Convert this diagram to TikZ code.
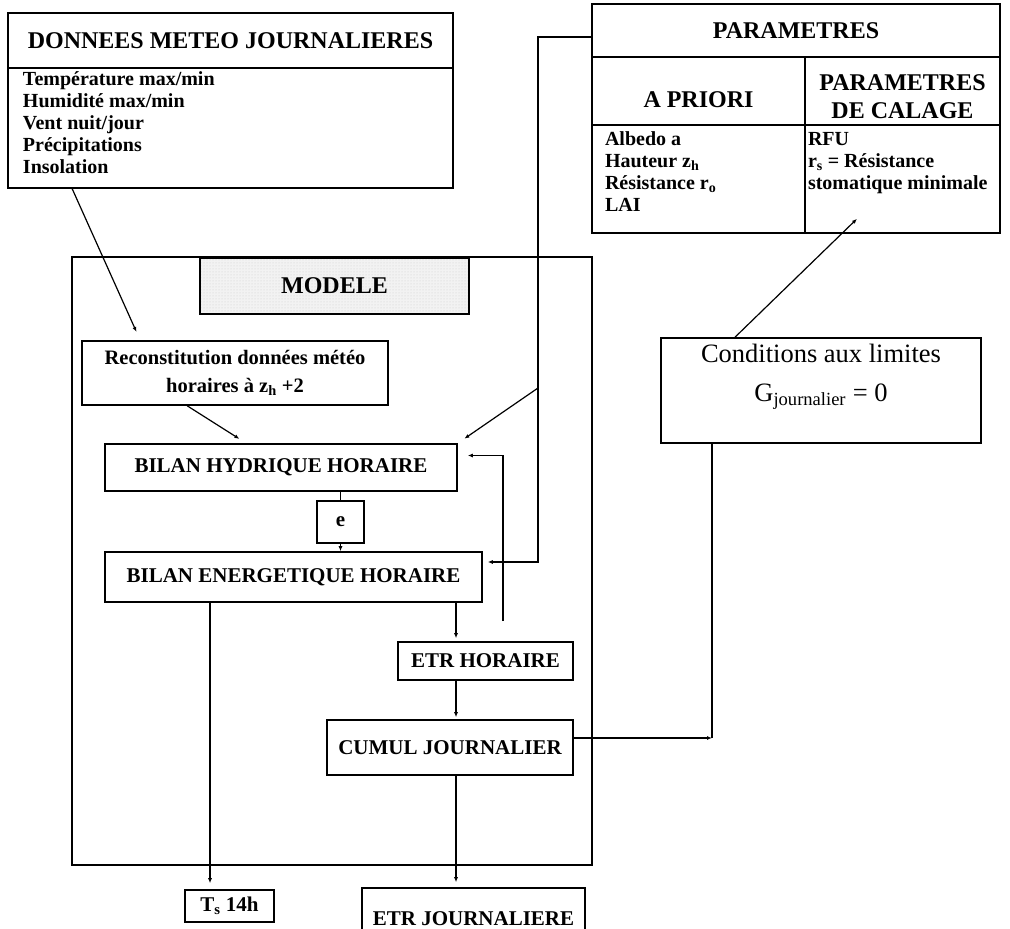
\documentclass[tikz,border=0pt]{standalone}
\usepackage{fontspec}
\setmainfont{Liberation Serif}
\usepackage{tikz}
\usetikzlibrary{arrows.meta}
\usetikzlibrary{calc}
\usetikzlibrary{patterns}
\newcommand\titlefont{\fontsize{24}{28}\selectfont\bfseries}
\newcommand\boxfont{\fontsize{21}{25}\selectfont\bfseries}
\newcommand\listfont{\fontsize{20}{22}\selectfont\bfseries}
\newcommand\condfont{\fontsize{26.5}{39}\selectfont\mdseries}
\newcommand\topcell[3]{\parbox[c][#1][t]{#2}{#3}}
\newcommand\botcell[3]{\parbox[c][#1][b]{#2}{#3}}
\tikzstyle{cell}=[draw,line width=1.6pt,inner sep=0pt,font=\boxfont]
\tikzstyle{stipple}=[preaction={fill=black!5},pattern=dots,pattern color=black!20]
\tikzstyle{arr}=[line width=1.2pt,-{Latex[length=5pt,width=4pt]}]
\tikzstyle{ln}=[line width=1.2pt]

\begin{document}
\begin{tikzpicture}[x=1pt,y=-1pt]
	\useasboundingbox (0,0) rectangle (1010,929);
	% entrees et parametres
	\node[cell,font=\titlefont,minimum width=445pt,minimum height=55pt] (donT) at (230.5,40.5) {DONNEES METEO JOURNALIERES};
	\node[cell,minimum width=445pt,minimum height=120pt] (donB) at (230.5,128) {\topcell{112pt}{415pt}{\listfont Température max/min\\Humidité max/min\\Vent nuit/jour\\Précipitations\\Insolation}};
	\node[cell,font=\titlefont,minimum width=408pt,minimum height=53pt] (parT) at (796,30.5) {PARAMETRES};
	\node[cell,font=\titlefont,minimum width=213pt,minimum height=68pt] (parA) at (698.5,91) {\botcell{34pt}{200pt}{\centering A PRIORI}};
	\node[cell,font=\titlefont,minimum width=195pt,minimum height=68pt] (parC) at (902.5,91) {\botcell{56pt}{190pt}{\centering PARAMETRES\\DE CALAGE}};
	\node[cell,minimum width=213pt,minimum height=108pt] (parAL) at (698.5,179) {\topcell{94pt}{187pt}{\listfont Albedo a\\Hauteur z\textsubscript{h}\\Résistance r\textsubscript{o}\\LAI}};
	\node[cell,minimum width=195pt,minimum height=108pt] (parCL) at (902.5,179) {\topcell{94pt}{189pt}{\listfont RFU\\r\textsubscript{s} = Résistance\\stomatique minimale}};
	\node[cell,minimum width=320pt,minimum height=105pt] (cond) at (821,390.5) {\topcell{93pt}{300pt}{\centering\condfont Conditions aux limites\\G\textsubscript{journalier} = 0}};
	% modele
	\node[cell,minimum width=520pt,minimum height=608pt] (modF) at (332,561) {};
	\node[cell,stipple,font=\titlefont,minimum width=269pt,minimum height=56pt] (modL) at (334.5,286) {MODELE};
	\node[cell,font=\fontsize{20.5}{28}\selectfont\bfseries,align=center,minimum width=306pt,minimum height=64pt] (recon) at (235,373) {Reconstitution données météo\\horaires à z\textsubscript{h} +2};
	\node[cell,minimum width=352pt,minimum height=47pt] (bilH) at (281,467.5) {BILAN HYDRIQUE HORAIRE};
	\node[cell,minimum width=47pt,minimum height=42pt] (eb) at (340.5,522) {e};
	\node[cell,minimum width=377pt,minimum height=50pt] (bilE) at (293.5,577) {BILAN ENERGETIQUE HORAIRE};
	\node[cell,minimum width=175pt,minimum height=38pt] (etrH) at (485.5,661) {ETR HORAIRE};
	\node[cell,minimum width=246pt,minimum height=55pt] (cumul) at (450,747.5) {CUMUL JOURNALIER};
	% sorties
	\node[cell,minimum width=89pt,minimum height=32pt] (ts) at (229.5,906) {T\textsubscript{s} 14h};
	\node[cell,minimum width=223pt,minimum height=62pt] (etrJ) at (473.5,919) {ETR JOURNALIERE};
	\coordinate (pbend) at (538,388);
	\coordinate (cturn) at (712,738);
	% liaisons
	\draw[arr,shorten >=9pt] ([xshift=65pt]donB.south west) -- ([xshift=59pt]recon.north west);
	\draw[arr,shorten >=8pt] ([xshift=106pt]recon.south west) -- ([xshift=142pt]bilH.north west);
	\draw[arr,shorten >=5pt] ([yshift=-6.5pt]parT.west) -| (pbend) |- ([yshift=15pt]bilE.east);
	\draw[arr,shorten >=8pt] (pbend) -- (bilH.north east);
	\draw[arr,shorten <=20pt,shorten >=10pt] ([xshift=17.5pt]etrH.north) |- ([yshift=12pt]bilH.east);
	\draw[ln] (eb.north |- bilH.south) -- (eb.north);
	\draw[arr] (eb.south) -- (eb.south |- bilE.north);
	\draw[arr,shorten >=3pt] ([xshift=-29.5pt]etrH.north |- bilE.south) -- ([xshift=-29.5pt]etrH.north);
	\draw[arr,shorten >=2pt] ([xshift=-29.5pt]etrH.south) -- ([xshift=-29.5pt]etrH.south |- cumul.north);
	\draw[arr] ([yshift=9.5pt]cumul.east) -- (cturn);
	\draw[ln] (cturn) -- (cturn |- cond.south);
	\draw[arr] ([xshift=-86pt]cond.north) -- ([xshift=-45.5pt,yshift=15pt]parCL.south);
	\draw[arr,shorten >=5pt] ([xshift=6pt]cumul.south) -- ([xshift=6pt]cumul.south |- etrJ.north);
	\draw[arr,shorten >=6pt] ([xshift=-83.5pt]bilE.south) -- ([xshift=-83.5pt]bilE.south |- ts.north);
\end{tikzpicture}
\end{document}
